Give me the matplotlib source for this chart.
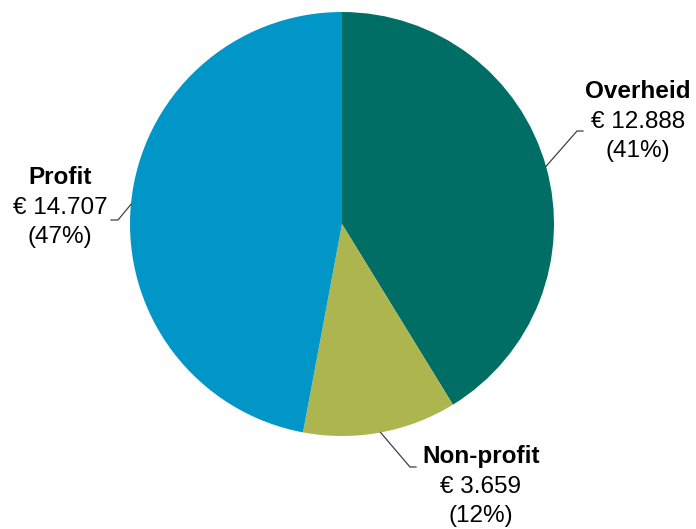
import numpy as np
import matplotlib.pyplot as plt

plt.rcParams['font.family'] = ['Liberation Sans', 'DejaVu Sans']

# Data
labels = ['Overheid', 'Non-profit', 'Profit']
values = [12888, 3659, 14707]
value_text = ['€ 12.888', '€ 3.659', '€ 14.707']
colors = ['#006e64', '#adb54f', '#0096c8']

W, H = 696, 529
fig = plt.figure(figsize=(W / 100, H / 100), dpi=100)
ax = fig.add_axes([0, 0, 1, 1])

cx, cy, r = 342, H - 224, 212
wedges, _ = ax.pie(values, colors=colors, startangle=90, counterclock=False,
                   center=(cx, cy), radius=r, frame=True,
                   wedgeprops=dict(linewidth=0))
ax.set_xlim(0, W)
ax.set_ylim(0, H)
ax.set_aspect('equal')
ax.axis('off')

total = sum(values)
pcts = [round(v / total * 100) for v in values]

# label block centre x, first line centre y (image coords), elbow and end of leader
label_pos = {
    'Overheid': (638, 92, (577, 131), (583, 131)),
    'Non-profit': (481, 457, (410, 467), (416, 467)),
    'Profit': (60, 178, (118, 220), (111, 220)),
}

for w, lab, vt, p in zip(wedges, labels, value_text, pcts):
    mid = np.deg2rad((w.theta1 + w.theta2) / 2)
    ax_pt = (cx + r * np.cos(mid), cy + r * np.sin(mid))
    tx, ty, elbow, end = label_pos[lab]
    ax.plot([ax_pt[0], elbow[0], end[0]], [ax_pt[1], H - elbow[1], H - end[1]],
            color='#404040', lw=0.9)
    ax.text(tx, H - ty, lab, ha='center', va='center', fontsize=17.5,
            fontweight='bold', color='black')
    ax.text(tx, H - ty - 30, vt, ha='center', va='center', fontsize=17.5, color='black')
    ax.text(tx, H - ty - 59, f'({p}%)', ha='center', va='center', fontsize=17.5,
            color='black')

fig.savefig('out.png', dpi=100)
